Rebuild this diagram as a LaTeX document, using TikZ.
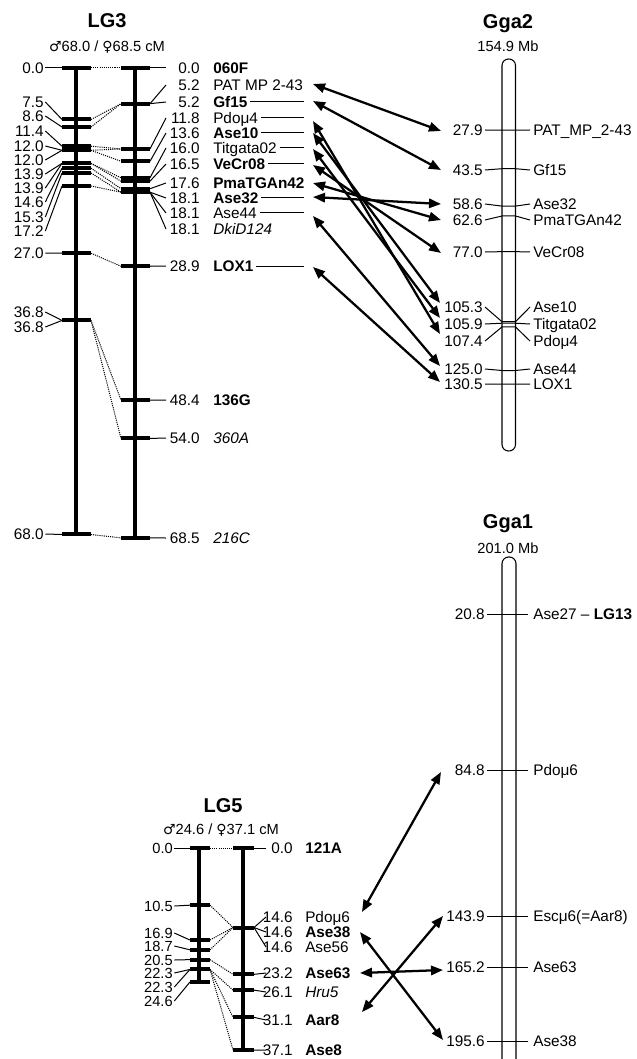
\documentclass[tikz,border=0pt]{standalone}
\usepackage{fontspec}
\setmainfont{Liberation Sans}
\newfontfamily\symfont{DejaVu Sans}
\usetikzlibrary{arrows.meta}
\newcommand{\mylabfont}{\fontsize{11.5}{12.5}\selectfont}
\newcommand{\stackfont}{\fontsize{11}{12}\selectfont}
\newcommand{\male}{{\symfont\fontsize{10.5}{11}\selectfont ♂}}
\newcommand{\female}{{\symfont\fontsize{10.5}{11}\selectfont ♀}}
\begin{document}
\begin{tikzpicture}[x=0.75pt,y=-0.75pt,
  lab/.style={font=\mylabfont, inner sep=0pt, text height=8.2pt, text depth=0pt},
  stk/.style={font=\stackfont, inner sep=0pt, text height=7.9pt, text depth=0pt},
  nmb/.style={font=\mylabfont\bfseries},
  nmi/.style={font=\mylabfont\itshape},
  nmr/.style={},
  ttl/.style={font=\fontsize{15}{17}\selectfont\bfseries, inner sep=0pt, anchor=base},
  subttl/.style={font=\fontsize{11}{12}\selectfont, inner sep=0pt, anchor=base},
  lgbar/.style={line width=3pt},
  cmtick/.style={line width=3pt},
  lead/.style={line width=0.75pt},
  dotl/.style={line width=0.75pt, dash pattern=on 0.8pt off 0.8pt},
  link/.style={line width=1.7pt, {Triangle[length=9pt,width=7pt]}-{Triangle[length=9pt,width=7pt]}},
  chrom/.style={line width=0.8pt}
]
\useasboundingbox (0,0) rectangle (636,1059);
\fill[white] (0,0) rectangle (636,1059);

% ================= LG3 =================
\node[ttl] (t3) at (107,28) {LG3};
\node[subttl] (s3) at (107,51.5) {\male68.0 / \female68.5 cM};
\draw[lgbar] (76,68) -- (76,534);
\draw[lgbar] (135,68) -- (135,538);
\foreach \v in {0,7.5,8.6,11.4,12.0,13.9,14.6,15.3,17.2,27.0,36.8,68.0}
  \draw[cmtick] (62,{68+6.86*\v}) -- (91,{68+6.86*\v});
\foreach \v in {0,5.2,11.8,13.6,16.0,16.5,17.6,18.1,28.9,48.4,54.0,68.5}
  \draw[cmtick] (121,{68+6.86*\v}) -- (150,{68+6.86*\v});
\foreach \m/\f in {0/0,7.5/5.2,8.6/5.2,11.4/11.8,12.0/11.8,12.0/13.6,13.9/16.0,13.9/16.5,14.6/17.6,15.3/18.1,17.2/18.1,27.0/28.9,36.8/48.4,36.8/54.0,68.0/68.5}
  \draw[dotl] (91,{68+6.86*\m}) -- (121,{68+6.86*\f});
\foreach \v/\ly [count=\i] in {0.0/68,7.5/102,8.6/116,11.4/131,12.0/146,12.0/160,13.9/174,13.9/188,14.6/202,15.3/217,17.2/231,27.0/253,36.8/312,36.8/327,68.0/534}{
  \node[lab,anchor=east] (l3v\i) at (44,\ly) {\v};
  \draw[lead] ([xshift=1pt]l3v\i.east) -- (62,{68+6.86*\v});
}
\foreach \v/\ly/\s/\nm [count=\i] in {0.0/68/nmb/060F, 5.2/85/nmr/PAT MP 2-43, 5.2/102/nmb/Gf15, 11.8/118/nmr/Pdoμ4, 13.6/133/nmb/Ase10, 16.0/148/nmr/Titgata02, 16.5/164/nmb/VeCr08, 17.6/183/nmb/PmaTGAn42, 18.1/198/nmb/Ase32, 18.1/213/nmr/Ase44, 18.1/229/nmi/DkiD124, 28.9/266/nmb/LOX1, 48.4/400/nmb/136G, 54.0/438/nmi/360A, 68.5/538/nmi/216C}{
  \node[lab,anchor=east] (r3v\i) at (200,\ly) {\v};
  \node[lab,\s,anchor=west] (r3n\i) at (213,\ly) {\nm};
  \draw[lead] (150,{68+6.86*\v}) -- (166,\ly);
}
\coordinate (stop3) at (304,0);
\foreach \i in {3,4,5,6,7,9,10,12}
  \draw[lead] ([xshift=2pt]r3n\i.east) -- (r3n\i.east -| stop3);

% ================= Gga2 =================
\node[ttl] (tg2) at (508,28.5) {Gga2};
\node[subttl] (sg2) at (508,52) {154.9 Mb};
\draw[chrom, rounded corners=4.9pt] (502,59) rectangle (515.5,451);
\foreach \v/\ly/\nm [count=\i] in {27.9/130/PAT\_MP\_2-43, 43.5/170/Gf15, 58.6/204/Ase32, 62.6/220/PmaTGAn42, 77.0/252/VeCr08, 105.3/307/Ase10, 105.9/324/Titgata02, 107.4/341/Pdoμ4, 125.0/369/Ase44, 130.5/384/LOX1}{
  \node[lab,anchor=east] (g2v\i) at (483,\ly) {\v};
  \node[lab,anchor=west] (g2n\i) at (533,\ly) {\nm};
  \draw[lead] (485,\ly) -- (502,{61+2.476*\v}) -- (515.5,{61+2.476*\v}) -- (530,\ly);
}
\coordinate (aPAT) at (313,84);   \coordinate (bPAT) at (441,131);
\coordinate (aGf)  at (313,101);  \coordinate (bGf)  at (441,170);
\coordinate (aPdo) at (313,121);  \coordinate (bPdo) at (440,334);
\coordinate (aA10) at (313,133);  \coordinate (bA10) at (440,303);
\coordinate (aTit) at (313,149);  \coordinate (bTit) at (440,318);
\coordinate (aVe)  at (313,165);  \coordinate (bVe)  at (441,253);
\coordinate (aPma) at (313,183);  \coordinate (bPma) at (441,220);
\coordinate (aA32) at (313,197);  \coordinate (bA32) at (441,204);
\coordinate (aA44) at (313,216);  \coordinate (bA44) at (440,366);
\coordinate (aLOX) at (313,267);  \coordinate (bLOX) at (440,382);
\foreach \n in {PAT,Gf,Pdo,A10,Tit,Ve,Pma,A32,A44,LOX}
  \draw[link] (a\n) -- (b\n);

% ================= Gga1 =================
\node[ttl] (tg1) at (508,528) {Gga1};
\node[subttl] (sg1) at (508,553) {201.0 Mb};
\draw[chrom, rounded corners=5pt] (502,1075) -- (502,557) -- (516,557) -- (516,1075);
\foreach \v/\ly/\nm [count=\i] in {20.8/614/{Ase27 – \textbf{LG13}}, 84.8/770/Pdoμ6, 143.9/916/Escμ6(=Aar8), 165.2/967/Ase63, 195.6/1041/Ase38}{
  \node[lab,anchor=east] (g1v\i) at (485,\ly) {\v};
  \node[lab,anchor=west] (g1n\i) at (533,\ly) {\nm};
  \draw[lead] (487,\ly) -- (528,\ly);
}

% ================= LG5 =================
\node[ttl] (t5) at (223,812) {LG5};
\node[subttl] (s5) at (221,834) {\male24.6 / \female37.1 cM};
\draw[lgbar] (199,848) -- (199,{848+5.445*24.6});
\draw[lgbar] (243,848) -- (243,{848+5.445*37.1});
\foreach \v in {0,10.5,16.9,18.7,20.5,22.3,24.6}
  \draw[cmtick] (190,{848+5.445*\v}) -- (210,{848+5.445*\v});
\foreach \v in {0,14.6,23.2,26.1,31.1,37.1}
  \draw[cmtick] (233,{848+5.445*\v}) -- (254,{848+5.445*\v});
\foreach \m/\f in {0/0,10.5/14.6,16.9/14.6,18.7/14.6,20.5/23.2,22.3/26.1,22.3/31.1,22.3/37.1}
  \draw[dotl] (210,{848+5.445*\m}) -- (233,{848+5.445*\f});
\foreach \v/\ly [count=\i] in {0.0/848,10.5/906,16.9/933,18.7/946,20.5/960,22.3/973,22.3/987,24.6/1001}{
  \node[stk,anchor=east] (l5v\i) at (173,\ly) {\v};
  \draw[lead] ([xshift=1pt]l5v\i.east) -- (190,{848+5.445*\v});
}
\foreach \v/\ly/\s/\nm [count=\i] in {0.0/848/nmb/121A, 14.6/917/nmr/Pdoμ6, 14.6/932/nmb/Ase38, 14.6/947/nmr/Ase56, 23.2/973/nmb/Ase63, 26.1/992/nmi/Hru5, 31.1/1020/nmb/Aar8, 37.1/1050/nmb/Ase8}{
  \node[lab,anchor=east] (r5v\i) at (293,\ly) {\v};
  \node[lab,\s,anchor=west] (r5n\i) at (305,\ly) {\nm};
  \draw[lead] (254,{848+5.445*\v}) -- (266,\ly);
}
\coordinate (cPdo) at (362,912);  \coordinate (dPdo) at (441,772);
\coordinate (cA38) at (360,932);  \coordinate (dA38) at (443,1040);
\coordinate (cA63) at (360,973);  \coordinate (dA63) at (443,970);
\coordinate (cAar) at (362,1012); \coordinate (dAar) at (443,916);
\foreach \n in {Pdo,A38,A63,Aar}
  \draw[link] (c\n) -- (d\n);
\end{tikzpicture}
\end{document}
